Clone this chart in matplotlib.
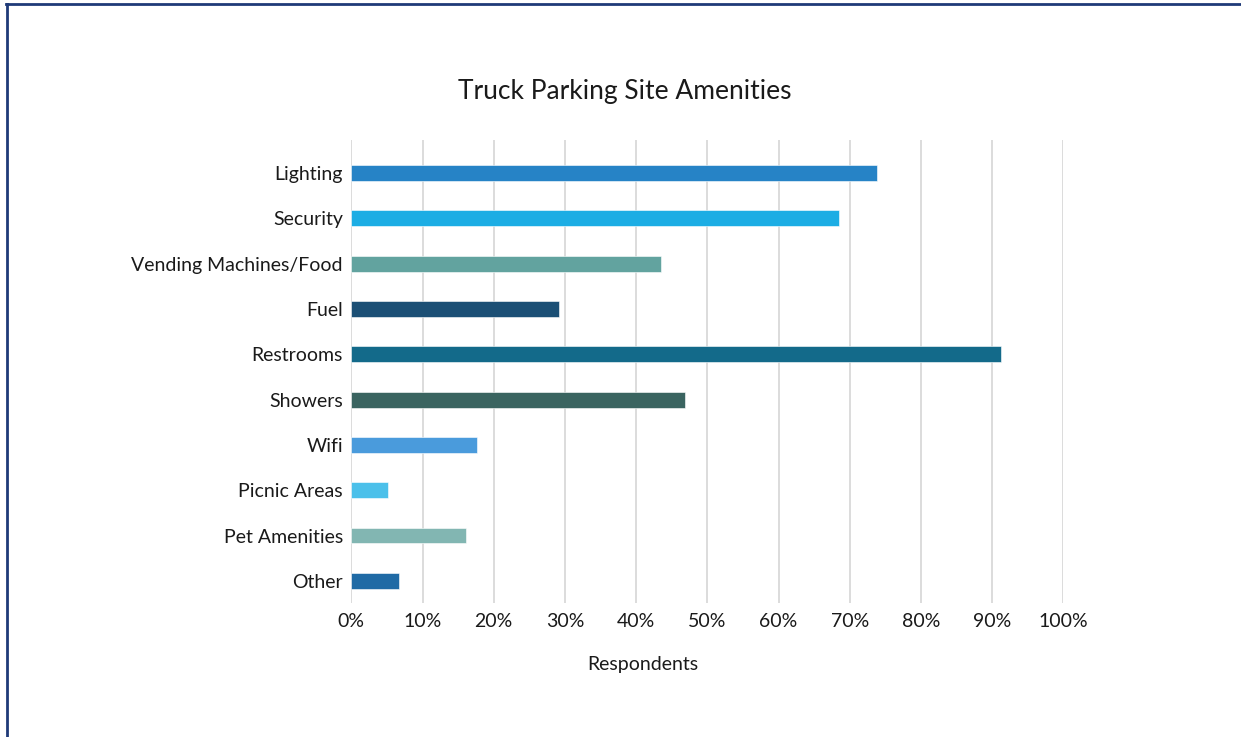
import matplotlib.pyplot as plt
from matplotlib.lines import Line2D
from matplotlib.ticker import MultipleLocator, PercentFormatter

plt.rcParams['font.family'] = ['Lato', 'DejaVu Sans']

# Share of respondents naming each amenity
amenities = ["Lighting", "Security", "Vending Machines/Food", "Fuel", "Restrooms",
             "Showers", "Wifi", "Picnic Areas", "Pet Amenities", "Other"]
share = [73.9, 68.5, 43.5, 29.1, 91.3, 46.9, 17.6, 5.1, 16.1, 6.7]
bar_colors = ["#2683C6", "#1CADE4", "#62A39F", "#1B4F75", "#136A8A",
              "#3A6460", "#4A9BDC", "#4BC0EA", "#82B6B2", "#1F6AA5"]

text_color = "#1a1a1a"
grid_color = "#d9d9d9"

fig = plt.figure(figsize=(12.41, 7.37), dpi=100)
ax = fig.add_axes([0.2831, 0.1818, 0.5737, 0.6282])

ypos = list(range(len(amenities)))
ax.barh(ypos, share, height=0.35, color=bar_colors, edgecolor="white", linewidth=0.4, zorder=3)

ax.set_xlim(0, 100)
ax.set_ylim(9.49, -0.73)
ax.set_yticks(ypos)
ax.set_yticklabels(amenities)
ax.xaxis.set_major_locator(MultipleLocator(10))
ax.xaxis.set_major_formatter(PercentFormatter(decimals=0))
ax.grid(axis="x", color=grid_color, linewidth=1.3, zorder=0)
ax.tick_params(axis="both", length=0, labelsize=14, colors=text_color)
ax.tick_params(axis="y", pad=6)
ax.tick_params(axis="x", pad=7)
for s in ax.spines.values():
    s.set_visible(False)

ax.set_xlabel("Respondents", fontsize=14, color=text_color)
ax.xaxis.set_label_coords(0.41, -0.115)
fig.text(0.5035, 1 - 91 / 737, "Truck Parking Site Amenities", ha="center", va="center",
         fontsize=19, color=text_color)

# frame lines along the top and left edge
W, H = 1241, 737
fig.add_artist(Line2D([6 / W, 1], [1 - 4 / H, 1 - 4 / H], transform=fig.transFigure,
                      color="#1F3A78", linewidth=2))
fig.add_artist(Line2D([7 / W, 7 / W], [0, 1 - 4 / H], transform=fig.transFigure,
                      color="#1F3A78", linewidth=2))

fig.savefig("out.png", dpi=100, facecolor="white")
